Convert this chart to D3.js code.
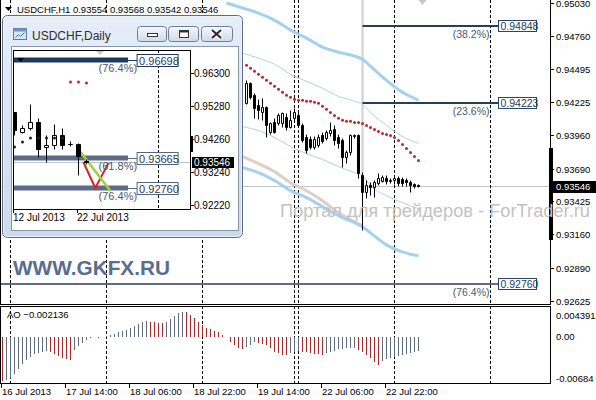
<!DOCTYPE html>
<html>
<head>
<meta charset="utf-8">
<title>USDCHF H1</title>
<script src="https://cdn.jsdelivr.net/npm/d3@7"></script>
<style>
  body { margin: 0; background: #fff; }
  svg { display: block; }
  text { font-family: "Liberation Sans", Arial, sans-serif; }
</style>
</head>
<body>
<svg id="chart" width="596" height="400"></svg>
<script>
// ---- H1 data, bar 0 = 16 Jul 22:00, one bar per hour ----
var candleFirst = 61;   // bars before this are hidden behind the Daily window
var open  = [0.94220,0.94382,0.94285,0.94204,0.94147,0.94188,0.93985,0.94066,0.94058,0.94058,0.94107,0.94026,0.94099,0.94123,0.94042,0.93945,0.93929,0.93864,0.93880,0.93961,0.93937,0.93977,0.94009,0.93945,0.93921,0.93783,0.93823,0.93953,0.93961,0.93637,0.93499,0.93556,0.93540,0.93572,0.93589,0.93613,0.93589,0.93597,0.93613,0.93605,0.93597,0.93580,0.93564,0.93554];
var high  = [0.94406,0.94390,0.94301,0.94253,0.94261,0.94196,0.94066,0.94099,0.94139,0.94147,0.94139,0.94163,0.94180,0.94147,0.94058,0.93969,0.93953,0.93953,0.93969,0.93985,0.94001,0.94066,0.94042,0.93969,0.93937,0.93840,0.93969,0.93969,0.93969,0.93661,0.93597,0.93580,0.93597,0.93653,0.93637,0.93637,0.93613,0.93637,0.93629,0.93621,0.93613,0.93597,0.93572,0.93568];
var low   = [0.94212,0.94253,0.94099,0.94091,0.94083,0.93945,0.93969,0.93977,0.94042,0.94026,0.94001,0.94018,0.94083,0.94026,0.93904,0.93815,0.93848,0.93848,0.93864,0.93896,0.93921,0.93953,0.93880,0.93856,0.93702,0.93734,0.93799,0.93937,0.93613,0.93192,0.93451,0.93475,0.93459,0.93556,0.93580,0.93564,0.93572,0.93564,0.93548,0.93548,0.93548,0.93499,0.93532,0.93542];
var close = [0.94382,0.94269,0.94180,0.94163,0.94188,0.94042,0.94058,0.93985,0.94123,0.94139,0.94026,0.94083,0.94147,0.94042,0.93921,0.93840,0.93864,0.93929,0.93945,0.93912,0.93985,0.94001,0.93921,0.93896,0.93783,0.93823,0.93961,0.93961,0.93653,0.93499,0.93556,0.93540,0.93580,0.93613,0.93621,0.93589,0.93597,0.93613,0.93572,0.93572,0.93580,0.93556,0.93548,0.93546];
var sar   = [0.94528,0.94504,0.94479,0.94455,0.94431,0.94406,0.94382,0.94358,0.94334,0.94309,0.94285,0.94269,0.94253,0.94245,0.94245,0.94237,0.94237,0.94228,0.94220,0.94196,0.94172,0.94147,0.94123,0.94099,0.94083,0.94075,0.94075,0.94066,0.94066,0.94058,0.94042,0.94026,0.94009,0.93993,0.93977,0.93969,0.93961,0.93945,0.93921,0.93888,0.93856,0.93823,0.93791,0.93759];

// channel lines, read at these bars
var lineBars     = [56,60,64,68,72,76,80,84,88,90,92,96,100,104];
var bandUpThick  = [0.95030,0.94990,0.94949,0.94892,0.94811,0.94747,0.94674,0.94633,0.94601,0.94576,0.94520,0.94406,0.94309,0.94245];
var bandUpThin   = [0.94666,0.94625,0.94585,0.94536,0.94455,0.94398,0.94342,0.94277,0.94237,0.94212,0.94147,0.94042,0.93953,0.93896];
var bandLowThin  = [0.94083,0.94034,0.94001,0.93945,0.93872,0.93815,0.93767,0.93710,0.93661,0.93637,0.93556,0.93475,0.93418,0.93370];
var bandLowThick = [0.93734,0.93702,0.93661,0.93597,0.93516,0.93459,0.93386,0.93313,0.93257,0.93224,0.93175,0.93078,0.93021,0.92989];
var maLine       = [0.93839,0.93791,0.93734,0.93669,0.93580,0.93515,0.93434,0.93337,0.93264,0.93232];

// Awesome Oscillator, bars 0..104
var aoBefore = -0.00640;
var ao = [-0.00650,-0.00636,-0.00606,-0.00547,-0.00473,-0.00399,-0.00340,-0.00296,-0.00259,-0.00236,-0.00222,-0.00207,
  -0.00222,-0.00251,-0.00281,-0.00310,-0.00333,-0.00347,-0.00192,-0.00140,-0.00096,-0.00052,-0.00025,-0.00007,
  -0.00015,-0.00009,0.00007,0.00030,0.00044,0.00064,0.00078,0.00099,0.00123,0.00158,0.00188,0.00211,
  0.00226,0.00217,0.00211,0.00207,0.00200,0.00214,0.00256,0.00306,0.00344,0.00370,0.00359,0.00321,
  0.00270,0.00222,0.00173,0.00123,0.00108,0.00089,0.00074,0.00025,-0.00010,-0.00074,-0.00123,-0.00173,
  -0.00182,-0.00148,-0.00123,-0.00074,-0.00099,-0.00114,-0.00123,-0.00173,-0.00222,-0.00247,-0.00270,-0.00276,
  -0.00247,-0.00222,-0.00207,-0.00222,-0.00232,-0.00241,-0.00251,-0.00262,-0.00266,-0.00241,-0.00222,-0.00207,
  -0.00188,-0.00177,-0.00173,-0.00167,-0.00165,-0.00192,-0.00222,-0.00266,-0.00321,-0.00370,-0.00421,-0.00359,
  -0.00330,-0.00310,-0.00296,-0.00281,-0.00266,-0.00251,-0.00236,-0.00226,-0.002136];

var timeLabels    = ["16 Jul 2013","17 Jul 14:00","18 Jul 06:00","18 Jul 22:00","19 Jul 14:00","22 Jul 06:00","22 Jul 22:00"];
var timeLabelBars = [0,16,32,48,64,80,96];
var separatorBars = [2,26,50,73,74,98,122];
var priceTicks = [0.95030,0.94760,0.94495,0.94225,0.93960,0.93690,0.93425,0.93160,0.92890,0.92625];
var aoTicks = [0.004391, 0, -0.00684];
var bid = 0.93546;
var fibLevels = [0.94848, 0.94223, 0.92760];
var fibNames  = ["(38.2%)", "(23.6%)", "(76.4%)"];
var fibFromBar = [90, 90, null];

// ---- Daily inset data: 12 Jul .. 23 Jul 2013 ----
var dOpen  = [0.95064,0.94476,0.94600,0.94785,0.93982,0.94074,0.94383,0.94105,0.94105,0.93580];
var dHigh  = [0.95094,0.94662,0.95311,0.94909,0.94383,0.94693,0.94600,0.94198,0.94136,0.93611];
var dLow   = [0.94383,0.94445,0.94538,0.93703,0.93549,0.93920,0.93920,0.94043,0.93147,0.93487];
var dClose = [0.94538,0.94600,0.94785,0.93920,0.94074,0.94383,0.94074,0.94105,0.93734,0.93546];
var dSar   = [0.94013,0.94167,0.94291,0.94291,0.94291,0.94291,0.94291,0.96022,0.96022,0.95991];
var dLabels = ["12 Jul 2013", "22 Jul 2013"];
var dLabelDays = [0, 8];
var dSeparator = 18;
var dPriceTicks = [0.96300,0.95280,0.94260,0.93240,0.92220];
var dFibLevels = [0.96698, 0.93665, 0.92760];
var dFibNames  = ["(76.4%)", "(61.8%)", "(76.4%)"];
var redLineDay   = [8.6, 10.1, 11.75];
var redLinePrice = [0.93549, 0.92745, 0.93518];
var greenLineDay   = [8.25, 12];
var greenLinePrice = [0.93858, 0.92652];

var svg = d3.select("#chart");

function px(v) { return Math.round(v - 0.5) + 0.5; }

var x = d3.scaleLinear().domain([0, 1]).range([2.5, 6.5]);
var y = d3.scaleLinear().domain([0.92625, 0.95030]).range([301, 3]);
var aoY = d3.scaleLinear().domain([-0.00684, 0.004391]).range([383, 307]);

var defs = svg.append("defs");
defs.append("clipPath").attr("id", "clipMain").append("rect")
  .attr("x", 1).attr("y", 0).attr("width", 549).attr("height", 304);
defs.append("clipPath").attr("id", "clipAO").append("rect")
  .attr("x", 1).attr("y", 307).attr("width", 549).attr("height", 76);
defs.append("clipPath").attr("id", "clipInset").append("rect")
  .attr("x", 14).attr("y", 51).attr("width", 176).attr("height", 158);
var fg = defs.append("linearGradient").attr("id", "frameGrad").attr("x1", 0).attr("y1", 0).attr("x2", 0).attr("y2", 1);
fg.append("stop").attr("offset", 0).attr("stop-color", "#e6eef8");
fg.append("stop").attr("offset", 1).attr("stop-color", "#ccdaeb");
var bg = defs.append("linearGradient").attr("id", "btnGrad").attr("x1", 0).attr("y1", 0).attr("x2", 0).attr("y2", 1);
bg.append("stop").attr("offset", 0).attr("stop-color", "#f6f8fb");
bg.append("stop").attr("offset", 0.5).attr("stop-color", "#e3e9f1");
bg.append("stop").attr("offset", 1).attr("stop-color", "#d0dae7");

// ================= main H1 panel =================
var main = svg.append("g").attr("clip-path", "url(#clipMain)");

main.append("line")
  .attr("x1", 0).attr("x2", 550).attr("y1", px(y(bid))).attr("y2", px(y(bid)))
  .attr("stroke", "#c4c4c4");

main.selectAll(".sep").data(separatorBars).enter().append("line")
  .attr("x1", function(d) { return x(d); }).attr("x2", function(d) { return x(d); })
  .attr("y1", 0).attr("y2", 304)
  .attr("stroke", "#000").attr("stroke-dasharray", "3,2");

// light vertical marker at bar 90
main.append("line")
  .attr("x1", x(90)).attr("x2", x(90)).attr("y1", 0).attr("y2", y(high[90 - candleFirst]))
  .attr("stroke", "#cfcfcf").attr("stroke-width", 2);

var bandLine = d3.line()
  .x(function(d) { return x(d[0]); })
  .y(function(d) { return y(d[1]); })
  .curve(d3.curveMonotoneX);

function drawBand(vals, color, width) {
  main.append("path")
    .datum(vals.map(function(v, k) { return [lineBars[k], v]; }))
    .attr("d", bandLine)
    .attr("fill", "none").attr("stroke", color).attr("stroke-width", width);
}
drawBand(maLine, "#dccfc8", 3);
drawBand(bandLowThick, "#a3d2ef", 3);
drawBand(bandUpThick, "#a3d2ef", 3);
drawBand(bandUpThin, "#a9d3ec", 1);
drawBand(bandLowThin, "#a9d3ec", 1);

// fibonacci levels
var fibEndBar = 124;
fibLevels.forEach(function(lv, k) {
  var yy = Math.round(y(lv));
  var x0 = fibFromBar[k] === null ? 0 : x(fibFromBar[k]);
  main.append("line")
    .attr("x1", x0).attr("x2", x(fibEndBar)).attr("y1", yy).attr("y2", yy)
    .attr("stroke", k < 2 ? "#2b3d50" : "#5e6e80").attr("stroke-width", 2);
  main.append("text")
    .attr("x", x(fibEndBar) - 9).attr("y", yy + 12)
    .attr("text-anchor", "end").attr("font-size", 10.5).attr("fill", "#4a5a6e")
    .text(fibNames[k]);
});

// candles
var bars = open.map(function(o, k) {
  return { i: candleFirst + k, o: o, h: high[k], l: low[k], c: close[k] };
});
main.selectAll(".wick").data(bars).enter().append("line")
  .attr("x1", function(d) { return x(d.i); }).attr("x2", function(d) { return x(d.i); })
  .attr("y1", function(d) { return px(y(d.h)); }).attr("y2", function(d) { return px(y(d.l)); })
  .attr("stroke", "#000");
main.selectAll(".body").data(bars).enter().append("path")
  .attr("d", function(d) {
    var cx = x(d.i);
    var t = px(y(Math.max(d.o, d.c))), b = px(y(Math.min(d.o, d.c)));
    return "M" + (cx - 1) + "," + t + "H" + (cx + 1) + "V" + b + "H" + (cx - 1) + "Z";
  })
  .attr("fill", function(d) { return d.c >= d.o ? "#fff" : "#000"; })
  .attr("stroke", "#000");

// parabolic SAR
main.selectAll(".sar").data(sar).enter().append("circle")
  .attr("cx", function(d, k) { return x(candleFirst + k); })
  .attr("cy", function(d) { return y(d); })
  .attr("r", 1.5).attr("fill", "#c0262a");

// chart-shift marker
main.append("path")
  .attr("d", "M" + (x(105) - 4) + ",0H" + (x(105) + 4) + "L" + x(105) + ",5Z")
  .attr("fill", "#c8c8c8");

// fib value boxes (on top of the price area)
fibLevels.forEach(function(lv, k) {
  var yy = Math.round(y(lv));
  svg.append("rect")
    .attr("x", x(fibEndBar)).attr("y", yy - 5.5).attr("width", 38).attr("height", 11)
    .attr("fill", "#fff").attr("stroke", "#2b4665");
  svg.append("text")
    .attr("x", x(fibEndBar) + 2).attr("y", yy + 4)
    .attr("font-size", 10.5).attr("fill", "#1f3b5e")
    .text(d3.format(".5f")(lv));
});

// panel frames
svg.append("rect").attr("x", 0.5).attr("y", -2).attr("width", 550).attr("height", 306.5)
  .attr("fill", "none").attr("stroke", "#000");
svg.append("rect").attr("x", 0.5).attr("y", 306.5).attr("width", 550).attr("height", 77)
  .attr("fill", "none").attr("stroke", "#000");

// right price axis
svg.selectAll(".ptick").data(priceTicks).enter().append("line")
  .attr("x1", 551).attr("x2", 554)
  .attr("y1", function(d) { return px(y(d)); }).attr("y2", function(d) { return px(y(d)); })
  .attr("stroke", "#000");
svg.selectAll(".plab").data(priceTicks).enter().append("text")
  .attr("x", 556).attr("y", function(d) { return y(d) + 3.5; })
  .attr("font-size", 9.5).attr("fill", "#000")
  .text(function(d) { return d3.format(".5f")(d); });

svg.append("rect").attr("x", 549).attr("y", 148).attr("width", 4).attr("height", 92).attr("fill", "#000");
svg.append("rect").attr("x", 551).attr("y", Math.round(y(bid)) - 6).attr("width", 45).attr("height", 12).attr("fill", "#000");
svg.append("text").attr("x", 556).attr("y", y(bid) + 3.5)
  .attr("font-size", 9.5).attr("fill", "#fff").text(d3.format(".5f")(bid));

// ================= AO panel =================
var aoG = svg.append("g").attr("clip-path", "url(#clipAO)");
aoG.selectAll(".sep").data(separatorBars).enter().append("line")
  .attr("x1", function(d) { return x(d); }).attr("x2", function(d) { return x(d); })
  .attr("y1", 306).attr("y2", 384)
  .attr("stroke", "#000").attr("stroke-dasharray", "3,2");
aoG.selectAll(".ao").data(ao).enter().append("line")
  .attr("x1", function(d, i) { return x(i); }).attr("x2", function(d, i) { return x(i); })
  .attr("y1", Math.round(aoY(0)))
  .attr("y2", function(d) { return Math.round(aoY(d)); })
  .attr("stroke", function(d, i) {
    var prev = i === 0 ? aoBefore : ao[i - 1];
    return d < prev ? "#a8282a" : "#5f6d7c";
  });

svg.append("text").attr("x", 7).attr("y", 318).attr("font-size", 9.5).attr("fill", "#000")
  .text("AO " + d3.format(".6f")(ao[ao.length - 1]));

var aoLabelY = [aoY(aoTicks[0]) + 8, aoY(aoTicks[1]), aoY(aoTicks[2]) - 5];
aoTicks.forEach(function(t, k) {
  svg.append("text").attr("x", 556).attr("y", aoLabelY[k] + 3.5)
    .attr("font-size", 9.5).attr("fill", "#000")
    .text(t === 0 ? "0.00" : (k === 0 ? "0.004391" : "-0.00684"));
});

// time axis
svg.selectAll(".ttick").data(timeLabelBars).enter().append("line")
  .attr("x1", function(d) { return x(d) - 1; }).attr("x2", function(d) { return x(d) - 1; })
  .attr("y1", 384).attr("y2", 388).attr("stroke", "#000");
svg.selectAll(".tlab").data(timeLabels).enter().append("text")
  .attr("x", function(d, k) { return x(timeLabelBars[k]) - 0.5; })
  .attr("y", 395)
  .attr("font-size", 9.5).attr("fill", "#000")
  .text(function(d) { return d; });

// header
svg.append("path").attr("d", "M5,7H12L8.5,11Z").attr("fill", "#000");
svg.append("text").attr("x", 17).attr("y", 13).attr("font-size", 9.5).attr("fill", "#000")
  .text("USDCHF,H1  " + [open[open.length - 1], high[high.length - 1], low[low.length - 1], close[close.length - 1]]
    .map(d3.format(".5f")).join(" "));

// ================= Daily inset window =================
var dx = d3.scaleLinear().domain([0, 1]).range([14.5, 22.5]);
var dy = d3.scaleLinear().domain([0.92220, 0.96300]).range([205, 73]);

var win = svg.append("g");
win.append("rect").attr("x", 2.5).attr("y", 15.5).attr("width", 240).attr("height", 222).attr("rx", 5)
  .attr("fill", "url(#frameGrad)").attr("stroke", "#5d6e84");
win.append("rect").attr("x", 3.5).attr("y", 16.5).attr("width", 238).attr("height", 220).attr("rx", 4)
  .attr("fill", "none").attr("stroke", "#f4f8fc").attr("stroke-opacity", 0.7);

// title icon and text
win.append("rect").attr("x", 13.5).attr("y", 28.5).attr("width", 13).attr("height", 11)
  .attr("fill", "#d7e6f6").attr("stroke", "#5b7ba5");
win.append("rect").attr("x", 13.5).attr("y", 28.5).attr("width", 13).attr("height", 3).attr("fill", "#6f93c2");
win.append("path").attr("d", "M15.5,37.5L18.5,34.5L20.5,36.5L24.5,32.5")
  .attr("fill", "none").attr("stroke", "#3b6db0");
win.append("text").attr("x", 32).attr("y", 40).attr("font-size", 12)
  .attr("font-family", "'Noto Sans', 'Open Sans', sans-serif").attr("fill", "#2e2e2e")
  .text("USDCHF,Daily");

// caption buttons
[[137.5, 29], [168.5, 30], [201.5, 31]].forEach(function(b) {
  win.append("rect").attr("x", b[0]).attr("y", 26.5).attr("width", b[1]).attr("height", 15).attr("rx", 3)
    .attr("fill", "url(#btnGrad)").attr("stroke", "#6d7d92");
});
win.append("rect").attr("x", 147.5).attr("y", 33.5).attr("width", 10).attr("height", 3)
  .attr("fill", "#fff").attr("stroke", "#333");
win.append("rect").attr("x", 179.5).attr("y", 30.5).attr("width", 9).attr("height", 7)
  .attr("fill", "#fff").attr("stroke", "#333");
win.append("line").attr("x1", 179.5).attr("x2", 188.5).attr("y1", 31.5).attr("y2", 31.5)
  .attr("stroke", "#333").attr("stroke-width", 2);
win.append("path").attr("d", "M212,30L221,38M221,30L212,38")
  .attr("stroke", "#fff").attr("stroke-width", 4.5);
win.append("path").attr("d", "M212,30L221,38M221,30L212,38")
  .attr("stroke", "#2d2d2d").attr("stroke-width", 2.2);

// client area
win.append("rect").attr("x", 11.5).attr("y", 46.5).attr("width", 227).attr("height", 184)
  .attr("fill", "#fff").attr("stroke", "#8796a9");

var plot = win.append("g").attr("clip-path", "url(#clipInset)");
plot.append("line").attr("x1", 13).attr("x2", 191)
  .attr("y1", px(dy(bid))).attr("y2", px(dy(bid))).attr("stroke", "#c4c4c4");
plot.append("line").attr("x1", dx(dSeparator)).attr("x2", dx(dSeparator)).attr("y1", 50).attr("y2", 210)
  .attr("stroke", "#000").attr("stroke-dasharray", "3,2");

// inset fib levels
var dFibEndDay = 14.2;
dFibLevels.forEach(function(lv, k) {
  var yy = Math.round(dy(lv));
  plot.append("line").attr("x1", 13).attr("x2", dx(dFibEndDay)).attr("y1", yy).attr("y2", yy)
    .attr("stroke", k === 0 ? "#1f3a5c" : "#5c6b88").attr("stroke-width", 5);
  plot.append("line").attr("x1", dx(dFibEndDay)).attr("x2", dx(dFibEndDay) + 10).attr("y1", yy + 0.5).attr("y2", yy + 0.5)
    .attr("stroke", k === 0 ? "#1f3a5c" : "#5c6b88");
});

// inset trend lines
var dLine = d3.line().x(function(d) { return dx(d[0]); }).y(function(d) { return dy(d[1]); });
plot.append("path").datum(redLineDay.map(function(d, k) { return [d, redLinePrice[k]]; }))
  .attr("d", dLine).attr("fill", "none").attr("stroke", "#d42424").attr("stroke-width", 2);
plot.append("path").datum(greenLineDay.map(function(d, k) { return [d, greenLinePrice[k]]; }))
  .attr("d", dLine).attr("fill", "none").attr("stroke", "#a2d03a").attr("stroke-width", 2.5);

// daily candles
var days = dOpen.map(function(o, k) { return { k: k, o: o, h: dHigh[k], l: dLow[k], c: dClose[k] }; });
plot.selectAll(".dw").data(days).enter().append("line")
  .attr("x1", function(d) { return dx(d.k); }).attr("x2", function(d) { return dx(d.k); })
  .attr("y1", function(d) { return px(dy(d.h)); }).attr("y2", function(d) { return px(dy(d.l)); })
  .attr("stroke", "#000");
plot.selectAll(".db").data(days).enter().append("path")
  .attr("d", function(d) {
    var cx = dx(d.k);
    var t = px(dy(Math.max(d.o, d.c))), b = px(dy(Math.min(d.o, d.c)));
    return "M" + (cx - 2) + "," + t + "H" + (cx + 2) + "V" + b + "H" + (cx - 2) + "Z";
  })
  .attr("fill", function(d) { return d.c >= d.o ? "#fff" : "#000"; })
  .attr("stroke", "#000");
plot.selectAll(".ds").data(dSar).enter().append("circle")
  .attr("cx", function(d, k) { return dx(k); }).attr("cy", function(d) { return dy(d); })
  .attr("r", 1.5)
  .attr("fill", function(d, k) { return d > dHigh[k] ? "#c0262a" : "#222"; });

// markers at the top of the inset
plot.append("path").attr("d", "M95,50H105L100,55Z").attr("fill", "#c8c8c8");
plot.append("path").attr("d", "M17,58H24L20.5,62Z").attr("fill", "#000");

win.append("rect").attr("x", 13.5).attr("y", 50.5).attr("width", 177).attr("height", 159)
  .attr("fill", "none").attr("stroke", "#000");

// inset fib labels and boxes
dFibLevels.forEach(function(lv, k) {
  var yy = Math.round(dy(lv));
  win.append("text").attr("x", dx(dFibEndDay) + 9).attr("y", yy + 11.5)
    .attr("text-anchor", "end").attr("font-size", 11).attr("fill", "#4a5a6e").text(dFibNames[k]);
  win.append("rect").attr("x", dx(dFibEndDay) + 9).attr("y", yy - 5.5).attr("width", 41).attr("height", 12)
    .attr("fill", "#fff").attr("stroke", k === 0 ? "#1f3a5c" : "#56657e");
  win.append("text").attr("x", dx(dFibEndDay) + 11).attr("y", yy + 4.5)
    .attr("font-size", 11).attr("fill", "#1f3b5e").text(d3.format(".5f")(lv));
});

// inset axes
win.selectAll(".dpt").data(dPriceTicks).enter().append("line")
  .attr("x1", 191).attr("x2", 194)
  .attr("y1", function(d) { return px(dy(d)); }).attr("y2", function(d) { return px(dy(d)); })
  .attr("stroke", "#000");
win.selectAll(".dpl").data(dPriceTicks).enter().append("text")
  .attr("x", 194).attr("y", function(d) { return dy(d) + 3.5; })
  .attr("font-size", 10).attr("fill", "#000").text(function(d) { return d3.format(".5f")(d); });
win.append("rect").attr("x", 190).attr("y", 136).attr("width", 3).attr("height", 16).attr("fill", "#000");
win.append("rect").attr("x", 192).attr("y", Math.round(dy(bid)) - 5).attr("width", 42).attr("height", 11).attr("fill", "#000");
win.append("text").attr("x", 194).attr("y", dy(bid) + 3.5)
  .attr("font-size", 10).attr("fill", "#fff").text(d3.format(".5f")(bid));

win.selectAll(".dtt").data(dLabelDays).enter().append("line")
  .attr("x1", function(d) { return dx(d) - 1; }).attr("x2", function(d) { return dx(d) - 1; })
  .attr("y1", 210).attr("y2", 213).attr("stroke", "#000");
win.selectAll(".dtl").data(dLabels).enter().append("text")
  .attr("x", function(d, k) { return dx(dLabelDays[k]) - 1.5; }).attr("y", 221)
  .attr("font-size", 10).attr("fill", "#000").text(function(d) { return d; });

// ================= watermarks =================
svg.append("text").attr("x", 13).attr("y", 275)
  .attr("font-size", 21).attr("font-weight", "bold").attr("fill", "#5b6c91")
  .attr("textLength", 157).attr("lengthAdjust", "spacingAndGlyphs")
  .text("WWW.GKFX.RU");
svg.append("text").attr("x", 280).attr("y", 217)
  .attr("font-size", 17.5).attr("fill", "#c2c2c2")
  .attr("textLength", 310).attr("lengthAdjust", "spacingAndGlyphs")
  .text("Портал для трейдеров - ForTrader.ru");
</script>
</body>
</html>
